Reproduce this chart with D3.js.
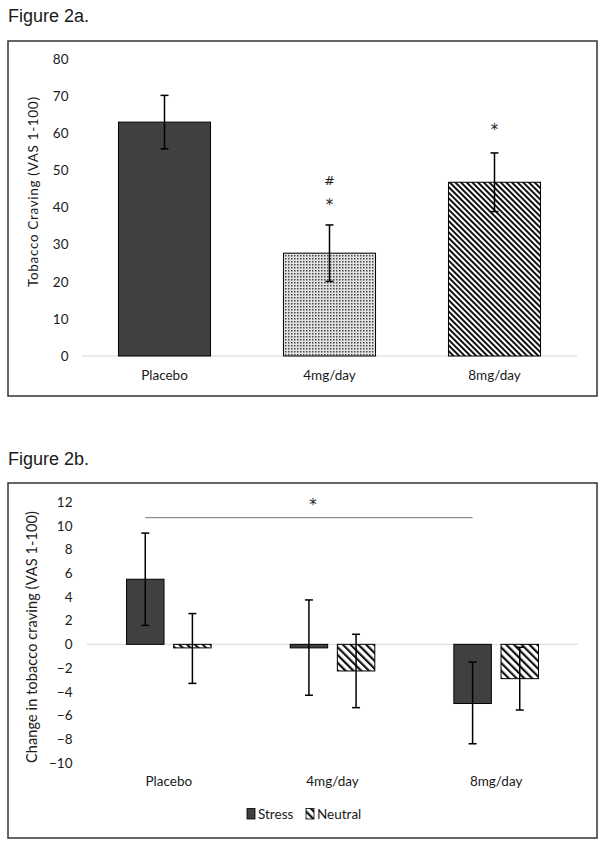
<!DOCTYPE html>
<html>
<head>
<meta charset="utf-8">
<script src="https://cdn.jsdelivr.net/npm/d3@7"></script>
<style>
  body { margin: 0; background: #fff; }
  svg text { font-family: Lato, "Noto Sans", sans-serif; fill: #1a1a1a; }
  .title { font-family: "Liberation Sans", Arial, sans-serif !important; font-size: 18px; }
  .mark { font-family: "DejaVu Sans", sans-serif !important; }
</style>
</head>
<body>
<div id="chart"></div>
<script>
// ---- figure 2a data
var catsA = ['Placebo', '4mg/day', '8mg/day'];
var meanA = [63.0, 27.7, 46.8];
var lowA = [55.8, 20.1, 38.9];
var highA = [70.2, 35.3, 54.7];
var ticksA = [0, 10, 20, 30, 40, 50, 60, 70, 80];
var marksA = [
  { cat: '4mg/day', val: 47.2, text: '#' },
  { cat: '4mg/day', val: 41.8, text: '*' },
  { cat: '8mg/day', val: 62.0, text: '*' }
];

// ---- figure 2b data
var catsB = ['Placebo', '4mg/day', '8mg/day'];
var seriesB = ['Stress', 'Neutral'];
var stressB = [5.5, -0.3, -5.0];
var stressLowB = [1.6, -4.3, -8.4];
var stressHighB = [9.4, 3.75, -1.5];
var neutralB = [-0.3, -2.25, -2.9];
var neutralLowB = [-3.3, -5.35, -5.55];
var neutralHighB = [2.6, 0.85, -0.25];
var ticksB = [-10, -8, -6, -4, -2, 0, 2, 4, 6, 8, 10, 12];
var sigLineB = { from: 'Placebo', to: '8mg/day', val: 10.7, starVal: 12.1 };

var W = 604, H = 847;
var svg = d3.select('#chart').append('svg')
  .attr('width', W)
  .attr('height', H);

svg.append('rect').attr('width', W).attr('height', H).attr('fill', '#fff');

var defs = svg.append('defs');

// dotted fill
var dots = defs.append('pattern')
  .attr('id', 'dots')
  .attr('patternUnits', 'userSpaceOnUse')
  .attr('width', 3).attr('height', 3);
dots.append('rect').attr('width', 3).attr('height', 3).attr('fill', '#e2e2e2');
dots.append('rect').attr('width', 1.5).attr('height', 1.5).attr('fill', '#444');

// dense diagonal hatch
var hatch1 = defs.append('pattern')
  .attr('id', 'hatchDense')
  .attr('patternUnits', 'userSpaceOnUse')
  .attr('width', 4).attr('height', 4)
  .attr('patternTransform', 'rotate(-45)');
hatch1.append('rect').attr('width', 4).attr('height', 4).attr('fill', '#fff');
hatch1.append('rect').attr('width', 2).attr('height', 4).attr('fill', '#111');

// wider diagonal hatch
var hatch2 = defs.append('pattern')
  .attr('id', 'hatchWide')
  .attr('patternUnits', 'userSpaceOnUse')
  .attr('width', 5.5).attr('height', 5.5)
  .attr('patternTransform', 'rotate(-45)');
hatch2.append('rect').attr('width', 5.5).attr('height', 5.5).attr('fill', '#fff');
hatch2.append('rect').attr('width', 2.2).attr('height', 5.5).attr('fill', '#111');

function errorBar(g, x, yLo, yHi) {
  g.append('line')
    .attr('x1', x).attr('x2', x)
    .attr('y1', yLo).attr('y2', yHi)
    .attr('stroke', '#000').attr('stroke-width', 1.5);
  [yLo, yHi].forEach(function(y) {
    g.append('line')
      .attr('x1', x - 4).attr('x2', x + 4)
      .attr('y1', y).attr('y2', y)
      .attr('stroke', '#000').attr('stroke-width', 1.5);
  });
}

// ================= Figure 2a =================
svg.append('text')
  .attr('class', 'title')
  .attr('x', 8).attr('y', 22)
  .text('Figure 2a.');

svg.append('rect')
  .attr('x', 8).attr('y', 41)
  .attr('width', 589).attr('height', 355)
  .attr('fill', 'none')
  .attr('stroke', '#333').attr('stroke-width', 1.5);

var gA = svg.append('g');

var xA = d3.scaleBand()
  .domain(catsA)
  .range([82, 577])
  .paddingInner(0.442)
  .paddingOuter(0.221);

var yA = d3.scaleLinear()
  .domain([0, 80])
  .range([356, 59]);

gA.append('line')
  .attr('x1', 82).attr('x2', 577)
  .attr('y1', yA(0)).attr('y2', yA(0))
  .attr('stroke', '#d9d9d9').attr('stroke-width', 1);

var axisA = gA.append('g')
  .attr('transform', 'translate(82,0)')
  .call(d3.axisLeft(yA).tickValues(ticksA).tickSize(0).tickPadding(13.5));
axisA.select('.domain').remove();
axisA.selectAll('text')
  .style('font-family', 'Lato, sans-serif')
  .style('font-size', '13.5px')
  .attr('fill', '#1a1a1a');

var fillsA = ['#404040', 'url(#dots)', 'url(#hatchDense)'];

gA.selectAll('rect.bar')
  .data(meanA)
  .enter()
  .append('rect')
  .attr('class', 'bar')
  .attr('x', function(d, i) { return xA(catsA[i]); })
  .attr('y', function(d) { return yA(d); })
  .attr('width', xA.bandwidth())
  .attr('height', function(d) { return yA(0) - yA(d); })
  .attr('fill', function(d, i) { return fillsA[i]; })
  .attr('stroke', '#000')
  .attr('stroke-width', 1);

meanA.forEach(function(d, i) {
  errorBar(gA, xA(catsA[i]) + xA.bandwidth() / 2, yA(lowA[i]), yA(highA[i]));
});

gA.selectAll('text.cat')
  .data(catsA)
  .enter()
  .append('text')
  .attr('class', 'cat')
  .attr('x', function(d) { return xA(d) + xA.bandwidth() / 2; })
  .attr('y', 380)
  .attr('text-anchor', 'middle')
  .style('font-size', '13.5px')
  .text(function(d) { return d; });

gA.selectAll('text.mark')
  .data(marksA)
  .enter()
  .append('text')
  .attr('class', 'mark')
  .attr('x', function(d) { return xA(d.cat) + xA.bandwidth() / 2; })
  .attr('y', function(d) { return yA(d.val); })
  .attr('dy', function(d) { return d.text === '*' ? '0.6em' : '0.35em'; })
  .attr('text-anchor', 'middle')
  .style('font-size', function(d) { return d.text === '*' ? '15px' : '13px'; })
  .text(function(d) { return d.text; });

gA.append('text')
  .attr('transform', 'translate(38,192) rotate(-90)')
  .attr('text-anchor', 'middle')
  .attr('textLength', 190)
  .attr('lengthAdjust', 'spacing')
  .style('font-size', '13.5px')
  .text('Tobacco Craving (VAS 1-100)');

// ================= Figure 2b =================
svg.append('text')
  .attr('class', 'title')
  .attr('x', 8).attr('y', 465)
  .text('Figure 2b.');

svg.append('rect')
  .attr('x', 8).attr('y', 483)
  .attr('width', 589).attr('height', 355)
  .attr('fill', 'none')
  .attr('stroke', '#333').attr('stroke-width', 1.5);

var gB = svg.append('g');

var xB = d3.scaleBand()
  .domain(catsB)
  .range([87, 578])
  .paddingInner(0.483)
  .paddingOuter(0.2415);

var xBin = d3.scaleBand()
  .domain(seriesB)
  .range([0, xB.bandwidth()])
  .paddingInner(0.205);

var yB = d3.scaleLinear()
  .domain([-10, 12])
  .range([762.7, 502.3]);

gB.append('line')
  .attr('x1', 87).attr('x2', 578)
  .attr('y1', yB(0)).attr('y2', yB(0))
  .attr('stroke', '#d9d9d9').attr('stroke-width', 1);

var axisB = gB.append('g')
  .attr('transform', 'translate(87,0)')
  .call(d3.axisLeft(yB).tickValues(ticksB).tickSize(0).tickPadding(14.5));
axisB.select('.domain').remove();
axisB.selectAll('text')
  .style('font-family', 'Lato, sans-serif')
  .style('font-size', '13.5px')
  .attr('fill', '#1a1a1a');

var rowsB = [];
catsB.forEach(function(c, i) {
  rowsB.push({ cat: c, ser: 'Stress', val: stressB[i], lo: stressLowB[i], hi: stressHighB[i] });
  rowsB.push({ cat: c, ser: 'Neutral', val: neutralB[i], lo: neutralLowB[i], hi: neutralHighB[i] });
});
var fillB = { Stress: '#404040', Neutral: 'url(#hatchWide)' };

gB.selectAll('rect.bar')
  .data(rowsB)
  .enter()
  .append('rect')
  .attr('class', 'bar')
  .attr('x', function(d) { return xB(d.cat) + xBin(d.ser); })
  .attr('y', function(d) { return Math.min(yB(d.val), yB(0)); })
  .attr('width', xBin.bandwidth())
  .attr('height', function(d) { return Math.abs(yB(d.val) - yB(0)); })
  .attr('fill', function(d) { return fillB[d.ser]; })
  .attr('stroke', '#000')
  .attr('stroke-width', 1);

rowsB.forEach(function(d) {
  errorBar(gB, xB(d.cat) + xBin(d.ser) + xBin.bandwidth() / 2, yB(d.lo), yB(d.hi));
});

// significance line between stress bars
var sx1 = xB(sigLineB.from) + xBin('Stress') + xBin.bandwidth() / 2;
var sx2 = xB(sigLineB.to) + xBin('Stress') + xBin.bandwidth() / 2;
gB.append('line')
  .attr('x1', sx1).attr('x2', sx2)
  .attr('y1', yB(sigLineB.val)).attr('y2', yB(sigLineB.val))
  .attr('stroke', '#777').attr('stroke-width', 1);
gB.append('text')
  .attr('class', 'mark')
  .attr('x', (sx1 + sx2) / 2 + 4)
  .attr('y', yB(sigLineB.starVal))
  .attr('dy', '0.6em')
  .attr('text-anchor', 'middle')
  .style('font-size', '15px')
  .text('*');

gB.selectAll('text.cat')
  .data(catsB)
  .enter()
  .append('text')
  .attr('class', 'cat')
  .attr('x', function(d) { return xB(d) + xB.bandwidth() / 2; })
  .attr('y', 786)
  .attr('text-anchor', 'middle')
  .style('font-size', '13.5px')
  .text(function(d) { return d; });

gB.append('text')
  .attr('transform', 'translate(37,637) rotate(-90)')
  .attr('text-anchor', 'middle')
  .attr('textLength', 252)
  .attr('lengthAdjust', 'spacing')
  .style('font-size', '14.5px')
  .text('Change in tobacco craving (VAS 1-100)');

// legend
var legend = gB.append('g').attr('transform', 'translate(247,808.5)');
var legX = [0, 59];
seriesB.forEach(function(s, i) {
  legend.append('rect')
    .attr('x', legX[i]).attr('y', 0)
    .attr('width', 8).attr('height', 10.5)
    .attr('fill', fillB[s])
    .attr('stroke', '#000').attr('stroke-width', 0.8);
  legend.append('text')
    .attr('x', legX[i] + 11).attr('y', 10)
    .style('font-size', '13.5px')
    .text(s);
});
</script>
</body>
</html>
